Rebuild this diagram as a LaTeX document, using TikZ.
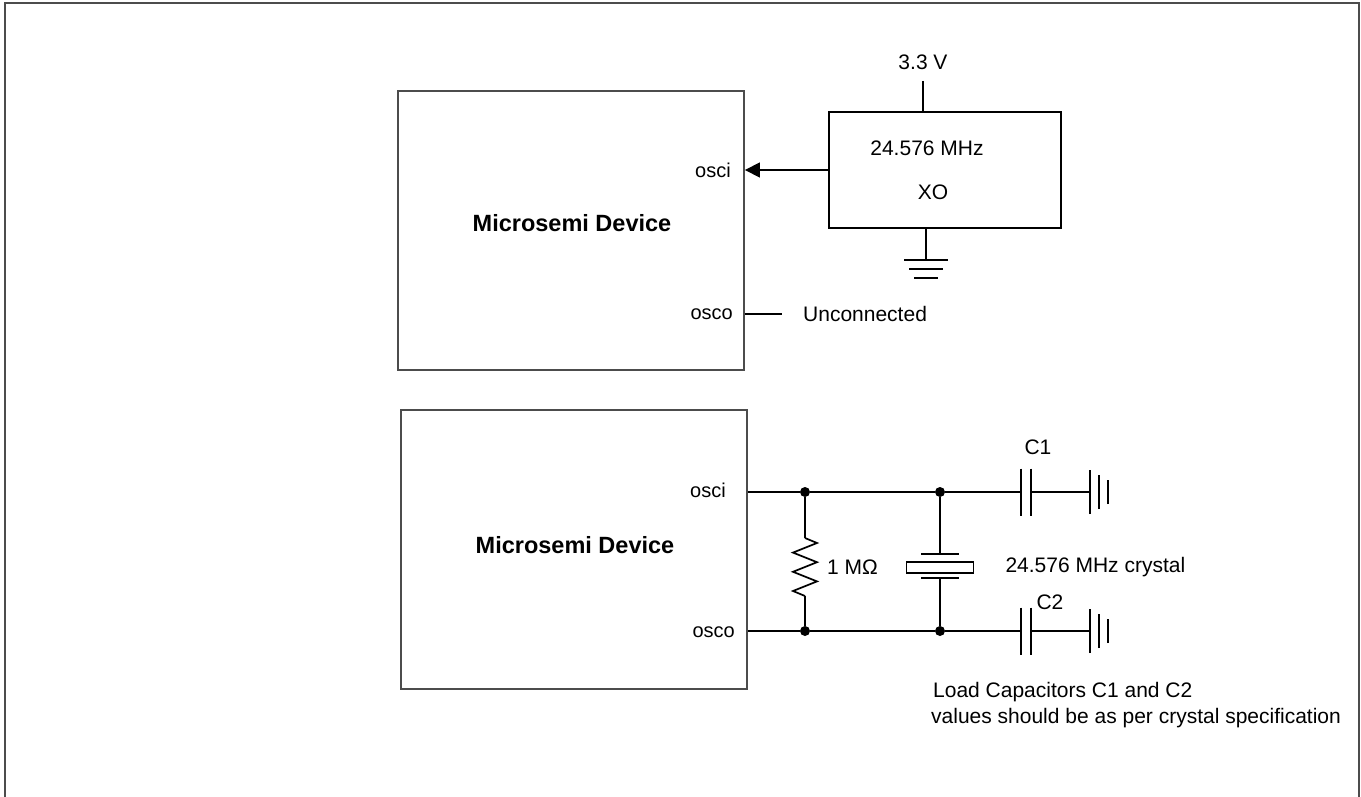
\documentclass[tikz,border=0pt]{standalone}
\usepackage{fontspec}
\setmainfont{Liberation Sans}
\usetikzlibrary{positioning,shapes,arrows.meta}

\begin{document}
\begin{tikzpicture}[
  x=1pt, y=-1pt,
  node distance=10pt and 20pt,
  wire/.style={line width=1.7pt},
  plate/.style={line width=2.8pt},
  frame/.style={draw=black!70,line width=2pt},
  devbox/.style={draw=black!70,line width=1.9pt,minimum width=346pt,minimum height=279pt},
  title/.style={font=\fontsize{23.5}{28}\selectfont\bfseries,inner sep=0pt},
  xobox/.style={draw,line width=1.7pt,minimum width=232pt,minimum height=116pt},
  pinlbl/.style={font=\fontsize{20}{24}\selectfont,anchor=east,inner sep=0pt},
  txt/.style={font=\fontsize{21}{25}\selectfont,inner sep=0pt},
  dot/.style={circle,fill,inner sep=0pt,minimum size=10pt},
  gnd/.pic={\draw[wire] (-22,0) -- (22,0) (-17,9) -- (17,9) (-12,18) -- (12,18);}]

\useasboundingbox (0,0) rectangle (1361,797);
\draw[frame] (5,797) -- (5,3) -- (1359,3) -- (1359,797);

% oscillator
\node[devbox] (dev1) at (571,230.5) {};
\node[title] (t1) at (572,223) {Microsemi Device};
\node[pinlbl] (osci1) at (731,170) {osci};
\node[pinlbl] (osco1) at (733,314) {osco};
\node[xobox] (xo) at (945,170) {};
\node[txt] (freq) at (927,148) {24.576 MHz};
\node[txt] (xolbl) at (933,192) {XO};
\coordinate (vcc) at (923,81);
\node[txt, above=11pt of vcc] (vlbl) {3.3 V};
\coordinate (g0) at (926,260);
\coordinate (nc) at (782,314);
\node[txt, right=21pt of nc] (nclbl) {Unconnected};

\draw[wire] (vcc) -- (vcc |- xo.north);
\draw[wire,-{Triangle[length=15pt,width=15pt]}] (xo.west) -- (dev1.east |- xo.west);
\draw[wire] (xo.south -| g0) -- (g0);
\pic at (g0) {gnd};
\draw[wire] (dev1.east |- osco1) -- (nc);

% crystal
\node[devbox] (dev2) at (574,549.5) {};
\node[title] (t2) at (575,545) {Microsemi Device};
\node[pinlbl] (osci2) at (726,490) {osci};
\node[pinlbl] (osco2) at (735,632) {osco};
\node[dot] (j1) at (805,492) {};
\node[dot] (j2) at (940,492) {};
\node[dot] (j3) at (805,631) {};
\node[dot] (j4) at (940,631) {};
\coordinate (c1l) at (1021,492);
\coordinate (c1r) at (1031,492);
\coordinate (c2l) at (1021,631);
\coordinate (c2r) at (1031,631);
\coordinate (g1) at (1090,492);
\coordinate (g2) at (1090,631);
\coordinate (rt) at (805,538);
\coordinate (rb) at (805,596);
\coordinate (xt) at (940,554);
\coordinate (xb) at (940,578);
\node[draw,wire,minimum width=67pt,minimum height=11pt,inner sep=0pt] (xtal) at (940,567.5) {};
\node[txt, anchor=west] (rlbl) at (827,567) {1 MΩ};
\node[txt, right=31pt of xtal] (xtlbl) {24.576 MHz crystal};
\node[txt] (c1lbl) at (1038,447) {C1};
\node[txt] (c2lbl) at (1050,602) {C2};
\node[txt, anchor=west] (note1) at (933,692) {Load Capacitors C1 and C2};
\node[txt, anchor=west] (note2) at (931,718) {values should be as per crystal specification};

\path[draw,wire]
  (dev2.east |- j1) edge (j1)
  (j1) edge (j2)
  (j2) edge (c1l)
  (c1r) edge (g1)
  (dev2.east |- j3) edge (j3)
  (j3) edge (j4)
  (j4) edge (c2l)
  (c2r) edge (g2)
  (j1) edge (rt)
  (rb) edge (j3)
  (j2) edge (xt)
  (xb) edge (j4);
\draw[wire] (rt) -- ++(12,5) -- ++(-24,9.6) -- ++(24,9.6) -- ++(-24,9.6) -- ++(24,9.6) -- ++(-24,9.6) -- (rb);
\draw[wire] (xt) ++(-19,0) -- ++(38,0) (xb) ++(-19,0) -- ++(38,0);
\draw[plate] (c1l) ++(0,-23.5) -- ++(0,47) (c1r) ++(0,-23.5) -- ++(0,47);
\draw[plate] (c2l) ++(0,-23.5) -- ++(0,47) (c2r) ++(0,-23.5) -- ++(0,47);
\pic[rotate=90] at (g1) {gnd};
\pic[rotate=90] at (g2) {gnd};

\end{tikzpicture}
\end{document}
